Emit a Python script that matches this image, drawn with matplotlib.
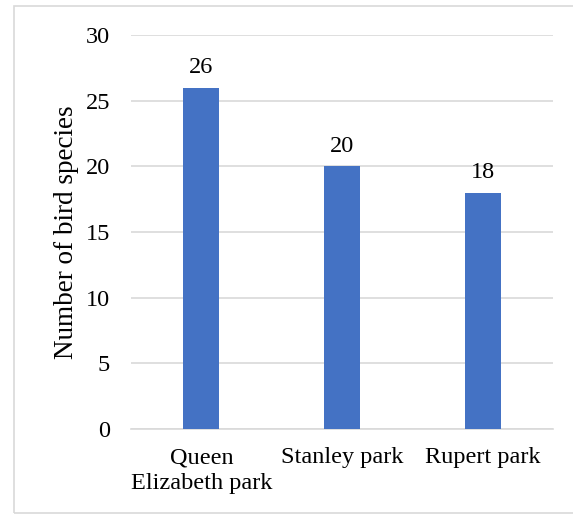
import matplotlib.pyplot as plt
from matplotlib.patches import Rectangle

categories = ["Queen\nElizabeth park", "Stanley park", "Rupert park"]
species = [26, 20, 18]
yticks = [0, 5, 10, 15, 20, 25, 30]

plt.rcParams['font.family'] = ['Liberation Serif', 'DejaVu Serif']

fig = plt.figure(figsize=(5.73, 5.14), dpi=100)
ax = fig.add_axes([0.2286, 0.1654, 0.965 - 0.2286, 0.9319 - 0.1654])

x = range(len(categories))
bars = ax.bar(x, species, width=0.255, color='#4472C4', zorder=3)
for b, v in zip(bars, species):
    ax.annotate(str(v), (b.get_x() + b.get_width() / 2, v), xytext=(0, 7),
                textcoords='offset points', ha='center', va='bottom', fontsize=17.5)

ax.set_xlim(-0.5, len(categories) - 0.5)
ax.set_ylim(0, 30)
ax.set_yticks(yticks)
ax.set_xticks(list(x))
ax.set_xticklabels(categories, fontsize=17.5, linespacing=1.3)
ax.tick_params(axis='y', labelsize=17.5, length=0, pad=15)
ax.tick_params(axis='x', length=0, pad=13)
ax.grid(axis='y', color='#D9D9D9', linewidth=1.2, zorder=0)
for s in ['top', 'right', 'left']:
    ax.spines[s].set_visible(False)
ax.spines['bottom'].set_color('#D9D9D9')
ax.spines['bottom'].set_linewidth(1.2)
ax.set_ylabel('Number of bird species', fontsize=19.5, labelpad=5)

# outer chart border
fig.patches.append(Rectangle((14 / 573, 1 / 514), 1.2, 1 - 7 / 514,
                             transform=fig.transFigure, fill=False,
                             edgecolor='#D9D9D9', linewidth=1.2))

fig.savefig('out.png', dpi=100)
